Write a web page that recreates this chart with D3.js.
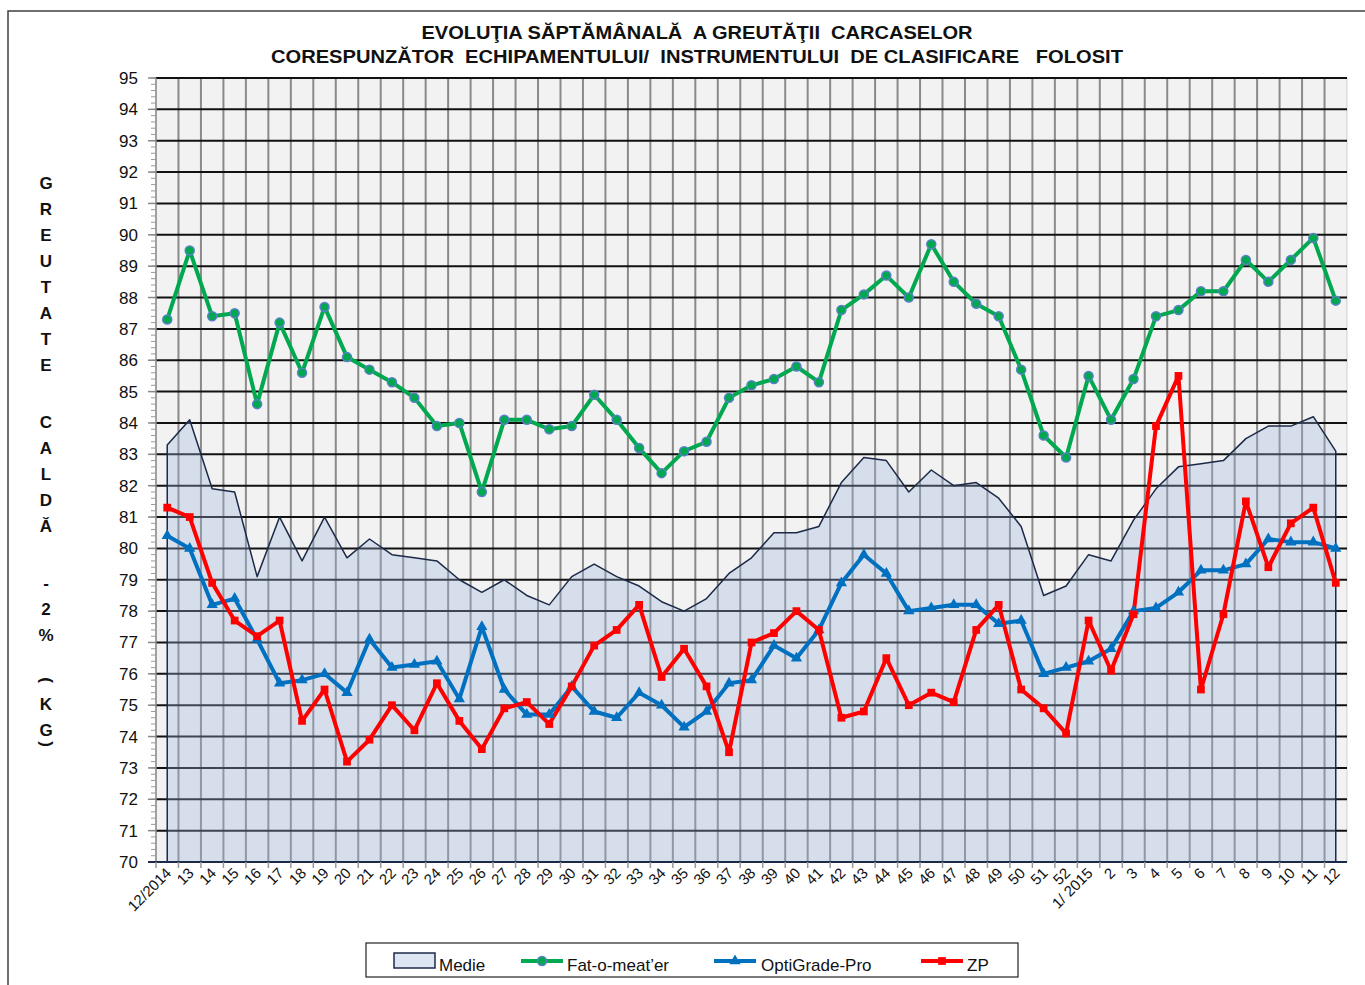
<!DOCTYPE html>
<html>
<head>
<meta charset="utf-8">
<script src="https://cdn.jsdelivr.net/npm/d3@7/dist/d3.min.js"></script>
<style>
  body { margin: 0; background: #fff; }
  text { font-family: "Liberation Sans", Arial, sans-serif; }
</style>
</head>
<body>
<div id="chart"></div>
<script>
    // weeks on the x axis
    var weeks = ["12/2014","13","14","15","16","17","18","19","20","21","22","23","24","25","26","27","28","29","30","31",
        "32","33","34","35","36","37","38","39","40","41","42","43","44","45","46","47","48","49","50","51","52",
        "1/ 2015","2","3","4","5","6","7","8","9","10","11","12"];

    // values (kg)
    var medie = [83.3,84.1,81.9,81.8,79.1,81.0,79.6,81.0,79.7,80.3,79.8,79.7,79.6,79.0,78.6,79.0,78.5,78.2,79.1,79.5,
        79.1,78.8,78.3,78.0,78.4,79.2,79.7,80.5,80.5,80.7,82.1,82.9,82.8,81.8,82.5,82.0,82.1,81.6,80.7,78.5,78.8,
        79.8,79.6,80.9,81.9,82.6,82.7,82.8,83.5,83.9,83.9,84.2,83.1];

    var fatOMeater = [87.3,89.5,87.4,87.5,84.6,87.2,85.6,87.7,86.1,85.7,85.3,84.8,83.9,84.0,81.8,84.1,84.1,83.8,83.9,84.9,
        84.1,83.2,82.4,83.1,83.4,84.8,85.2,85.4,85.8,85.3,87.6,88.1,88.7,88.0,89.7,88.5,87.8,87.4,85.7,83.6,82.9,
        85.5,84.1,85.4,87.4,87.6,88.2,88.2,89.2,88.5,89.2,89.9,87.9];

    var optiGrade = [80.4,80.0,78.2,78.4,77.1,75.7,75.8,76.0,75.4,77.1,76.2,76.3,76.4,75.2,77.5,75.5,74.7,74.7,75.6,74.8,
        74.6,75.4,75.0,74.3,74.8,75.7,75.8,76.9,76.5,77.4,78.9,79.8,79.2,78.0,78.1,78.2,78.2,77.6,77.7,76.0,76.2,
        76.4,76.8,78.0,78.1,78.6,79.3,79.3,79.5,80.3,80.2,80.2,80.0];

    var zp = [81.3,81.0,78.9,77.7,77.2,77.7,74.5,75.5,73.2,73.9,75.0,74.2,75.7,74.5,73.6,74.9,75.1,74.4,75.6,76.9,
        77.4,78.2,75.9,76.8,75.6,73.5,77.0,77.3,78.0,77.4,74.6,74.8,76.5,75.0,75.4,75.1,77.4,78.2,75.5,74.9,74.1,
        77.7,76.1,77.9,83.9,85.5,75.5,77.9,81.5,79.4,80.8,81.3,78.9];

    var yTicks = d3.range(70, 96);
    var yMinor = d3.range(70, 95.01, 0.2);

    var titleLines = ["EVOLUŢIA SĂPTĂMÂNALĂ  A GREUTĂŢII  CARCASELOR",
        "CORESPUNZĂTOR  ECHIPAMENTULUI/  INSTRUMENTULUI  DE CLASIFICARE   FOLOSIT"];
    var titleWidths = [551, 852];
    var yTitle = "GREUTATE CALDĂ -2% (KG)";

(function() {
    // careful: "top" is a browser global, so the plot edges get their own names
    var w = 1365,
        h = 985,
        plotL = 156, plotR = 1347,
        plotT = 78, plotB = 862;

    var svg = d3.select("#chart").append("svg")
        .attr("width", w)
        .attr("height", h);

    // outer chart frame, runs past the picture on the right and bottom
    svg.append("rect")
        .attr("x", 8).attr("y", 11)
        .attr("width", 1400).attr("height", 1000)
        .attr("fill", "#fff")
        .attr("stroke", "#404040")
        .attr("stroke-width", 1.5);

    var x = d3.scaleBand().domain(weeks).range([plotL, plotR]);
    var y = d3.scaleLinear().domain([70, 95]).range([plotB, plotT]);
    var cx = function(d, i) { return x(weeks[i]) + x.bandwidth() / 2; };

    // plot background
    svg.append("rect")
        .attr("x", plotL).attr("y", plotT)
        .attr("width", plotR - plotL).attr("height", plotB - plotT)
        .attr("fill", "#f2f2f2")
        .attr("stroke", "#d0d0d0");

    // vertical grid on the category boundaries
    svg.append("g").selectAll("line")
        .data(weeks.slice(1))
        .enter().append("line")
        .attr("x1", function(d) { return x(d); })
        .attr("x2", function(d) { return x(d); })
        .attr("y1", plotT).attr("y2", plotB)
        .attr("stroke", "#8a8a8a")
        .attr("stroke-width", 2);

    // horizontal grid
    svg.append("g").selectAll("line")
        .data(yTicks.slice(1))
        .enter().append("line")
        .attr("x1", plotL).attr("x2", plotR)
        .attr("y1", function(d) { return y(d); })
        .attr("y2", function(d) { return y(d); })
        .attr("stroke", "#111")
        .attr("stroke-width", 2);

    // Medie as a see-through area so the grid still shows
    var area = d3.area()
        .x(cx)
        .y0(plotB)
        .y1(function(d) { return y(d); });

    svg.append("path")
        .datum(medie)
        .attr("d", area)
        .attr("fill", "#9db5dc")
        .attr("fill-opacity", 0.32)
        .attr("stroke", "#1c2a48")
        .attr("stroke-width", 1.5)
        .attr("stroke-linejoin", "round");

    // y axis: line, major and minor ticks, labels
    svg.append("line")
        .attr("x1", plotL).attr("x2", plotL)
        .attr("y1", plotT).attr("y2", plotB)
        .attr("stroke", "#8a8a8a").attr("stroke-width", 1.5);

    svg.append("g").selectAll("line")
        .data(yMinor)
        .enter().append("line")
        .attr("x1", plotL - 5).attr("x2", plotL)
        .attr("y1", function(d) { return y(d); })
        .attr("y2", function(d) { return y(d); })
        .attr("stroke", "#999").attr("stroke-width", 1);

    svg.append("g").selectAll("line")
        .data(yTicks)
        .enter().append("line")
        .attr("x1", plotL - 8).attr("x2", plotL)
        .attr("y1", function(d) { return y(d); })
        .attr("y2", function(d) { return y(d); })
        .attr("stroke", "#888").attr("stroke-width", 1.5);

    svg.append("g").selectAll("text")
        .data(yTicks)
        .enter().append("text")
        .attr("x", 138)
        .attr("y", function(d) { return y(d) + 6; })
        .attr("text-anchor", "end")
        .attr("font-size", 17)
        .attr("fill", "#111")
        .text(function(d) { return d; });

    // x axis: line, tick marks between categories, slanted labels
    svg.append("line")
        .attr("x1", plotL - 8).attr("x2", plotR)
        .attr("y1", plotB).attr("y2", plotB)
        .attr("stroke", "#1c2a48").attr("stroke-width", 2);

    svg.append("g").selectAll("line")
        .data(weeks)
        .enter().append("line")
        .attr("x1", function(d) { return x(d); })
        .attr("x2", function(d) { return x(d); })
        .attr("y1", plotB).attr("y2", plotB + 6)
        .attr("stroke", "#999").attr("stroke-width", 1.5);

    svg.append("g").selectAll("text")
        .data(weeks)
        .enter().append("text")
        .attr("transform", function(d, i) {
            return "translate(" + (cx(d, i) + 5) + "," + (plotB + 12) + ") rotate(-45)";
        })
        .attr("text-anchor", "end")
        .attr("font-size", 15)
        .attr("fill", "#111")
        .text(function(d) { return d; });

    // the three measured series
    var line = d3.line()
        .x(cx)
        .y(function(d) { return y(d); });

    function drawSeries(values, color) {
        svg.append("path")
            .datum(values)
            .attr("d", line)
            .attr("fill", "none")
            .attr("stroke", color)
            .attr("stroke-width", 4)
            .attr("stroke-linejoin", "round");
    }

    drawSeries(optiGrade, "#0070c0");
    drawSeries(fatOMeater, "#00a84f");
    drawSeries(zp, "#ff0000");

    var tri = d3.symbol().type(d3.symbolTriangle).size(55);
    var sq = d3.symbol().type(d3.symbolSquare).size(60);

    svg.append("g").selectAll("path")
        .data(optiGrade)
        .enter().append("path")
        .attr("d", tri)
        .attr("transform", function(d, i) { return "translate(" + cx(d, i) + "," + y(d) + ")"; })
        .attr("fill", "#0070c0");

    svg.append("g").selectAll("circle")
        .data(fatOMeater)
        .enter().append("circle")
        .attr("cx", cx)
        .attr("cy", function(d) { return y(d); })
        .attr("r", 4.5)
        .attr("fill", "#00a84f")
        .attr("stroke", "#5b7fc7")
        .attr("stroke-width", 1.5);

    svg.append("g").selectAll("path")
        .data(zp)
        .enter().append("path")
        .attr("d", sq)
        .attr("transform", function(d, i) { return "translate(" + cx(d, i) + "," + y(d) + ")"; })
        .attr("fill", "#ff0000");

    // title, squeezed into the same width as the original
    svg.append("g").selectAll("text")
        .data(titleLines)
        .enter().append("text")
        .attr("x", 697)
        .attr("y", function(d, i) { return 39 + i * 24; })
        .attr("text-anchor", "middle")
        .attr("font-size", 19)
        .attr("font-weight", "bold")
        .attr("textLength", function(d, i) { return titleWidths[i]; })
        .attr("lengthAdjust", "spacingAndGlyphs")
        .style("white-space", "pre")
        .attr("fill", "#111")
        .text(function(d) { return d; });

    // stacked y title, one letter per row, a space gives a bigger gap
    // the brackets are turned on their side and hug the K and G
    var ty = 189, yTitleRows = [];
    yTitle.split("").forEach(function(c) {
        if (c === " ") { ty += 31; return; }
        if (c === "(" || c === ")") {
            yTitleRows.push({ c: c, y: ty - 18, paren: true });
            ty += 12;
            return;
        }
        yTitleRows.push({ c: c, y: ty, paren: false });
        ty += 26;
    });

    svg.append("g").selectAll("text")
        .data(yTitleRows)
        .enter().append("text")
        .attr("transform", function(d) {
            return d.paren ? "translate(46," + d.y + ") rotate(90)" : "translate(46," + d.y + ")";
        })
        .attr("text-anchor", "middle")
        .attr("dominant-baseline", function(d) { return d.paren ? "central" : "auto"; })
        .attr("font-size", 17)
        .attr("font-weight", "bold")
        .attr("fill", "#111")
        .text(function(d) { return d.c; });

    // legend
    var legend = svg.append("g");
    legend.append("rect")
        .attr("x", 366).attr("y", 943)
        .attr("width", 652).attr("height", 34)
        .attr("fill", "#fff")
        .attr("stroke", "#222").attr("stroke-width", 1.2);

    legend.append("rect")
        .attr("x", 394).attr("y", 953)
        .attr("width", 41).attr("height", 15)
        .attr("fill", "#9db5dc").attr("fill-opacity", 0.35)
        .attr("stroke", "#1c2a48").attr("stroke-width", 1.5);

    var legendItems = [
        { name: "Medie", x: 439 },
        { name: "Fat-o-meat’er", x: 567, color: "#00a84f", lx: 521 },
        { name: "OptiGrade-Pro", x: 761, color: "#0070c0", lx: 714 },
        { name: "ZP", x: 967, color: "#ff0000", lx: 921 }
    ];

    legendItems.forEach(function(item, i) {
        legend.append("text")
            .attr("x", item.x).attr("y", 971)
            .attr("font-size", 17)
            .attr("fill", "#111")
            .text(item.name);
        if (!item.color) return;
        legend.append("line")
            .attr("x1", item.lx).attr("x2", item.lx + 42)
            .attr("y1", 961).attr("y2", 961)
            .attr("stroke", item.color).attr("stroke-width", 4);
        var mx = item.lx + 21;
        if (i === 1) {
            legend.append("circle").attr("cx", mx).attr("cy", 961).attr("r", 4.5)
                .attr("fill", item.color).attr("stroke", "#5b7fc7").attr("stroke-width", 1.5);
        } else {
            legend.append("path")
                .attr("d", i === 2 ? tri : sq)
                .attr("transform", "translate(" + mx + ",961)")
                .attr("fill", item.color);
        }
    });
})();
</script>
</body>
</html>
